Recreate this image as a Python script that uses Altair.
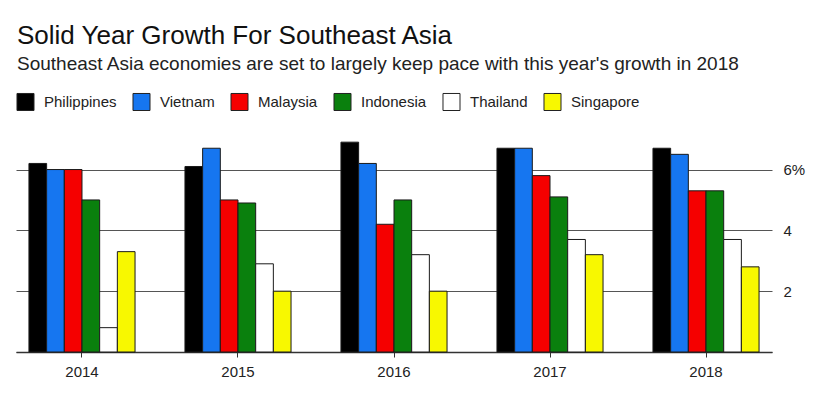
import altair as alt
import pandas as pd

years = ["2014", "2015", "2016", "2017", "2018"]
countries = ["Philippines", "Vietnam", "Malaysia", "Indonesia", "Thailand", "Singapore"]
philippines = [6.2, 6.1, 6.9, 6.7, 6.7]
vietnam = [6.0, 6.7, 6.2, 6.7, 6.5]
malaysia = [6.0, 5.0, 4.2, 5.8, 5.3]
indonesia = [5.0, 4.9, 5.0, 5.1, 5.3]
thailand = [0.8, 2.9, 3.2, 3.7, 3.7]
singapore = [3.3, 2.0, 2.0, 3.2, 2.8]
colors = ["#000000", "#1676f0", "#f50000", "#0a800d", "#ffffff", "#f8f800"]

series = [philippines, vietnam, malaysia, indonesia, thailand, singapore]
rows = []
for c, vals in zip(countries, series):
    for y, v in zip(years, vals):
        rows.append({"year": y, "country": c, "value": v})
df = pd.DataFrame(rows)

FONT = "Liberation Sans, Arial, Helvetica, sans-serif"

chart = alt.Chart(df).mark_bar(stroke="#1a1a1a", strokeWidth=1).encode(
    x=alt.X("year:N", sort=years, title=None,
            scale=alt.Scale(paddingInner=0.32, paddingOuter=0.083),
            axis=alt.Axis(labelAngle=0, domainColor="#333333", domainWidth=1.5,
                          tickColor="#333333", tickSize=5, labelFontSize=15,
                          labelPadding=7, labelColor="#222222", grid=False)),
    xOffset=alt.XOffset("country:N", sort=countries,
                        scale=alt.Scale(paddingInner=0, paddingOuter=0)),
    y=alt.Y("value:Q", title=None,
            scale=alt.Scale(domain=[0, 7.3], nice=False),
            axis=alt.Axis(orient="right", values=[0, 2, 4, 6],
                          labelExpr="datum.value == 6 ? '6%' : (datum.value == 0 ? '' : datum.label)",
                          grid=True, gridColor="#555555", gridWidth=1,
                          domain=False, ticks=False, labelPadding=11,
                          labelFontSize=15, labelColor="#222222")),
    color=alt.Color("country:N", sort=countries,
                    scale=alt.Scale(domain=countries, range=colors),
                    legend=alt.Legend(orient="none", legendX=0, legendY=-38,
                                      direction="horizontal", title=None,
                                      symbolType="square", symbolSize=290,
                                      symbolStrokeColor="#222222", symbolStrokeWidth=1,
                                      symbolOpacity=1,
                                      labelFontSize=15, labelOffset=9,
                                      columnPadding=13, labelColor="#222222",
                                      labelFont=FONT)),
).properties(
    width=756, height=222,
    title=alt.TitleParams(
        text="Solid Year Growth For Southeast Asia",
        subtitle="Southeast Asia economies are set to largely keep pace with this year's growth in 2018",
        anchor="start", fontSize=26, subtitleFontSize=19, font=FONT, subtitleFont=FONT,
        fontWeight="normal", color="#111111", subtitleColor="#222222",
        dx=1, offset=18, subtitlePadding=6,
    ),
    autosize=alt.AutoSizeParams(type="none"),
    padding={"left": 8, "top": 122, "right": 52, "bottom": 39},
).configure_view(stroke=None).configure_axis(labelFont=FONT)

chart.save("out.html", embed_options={"renderer": "svg", "actions": False})
